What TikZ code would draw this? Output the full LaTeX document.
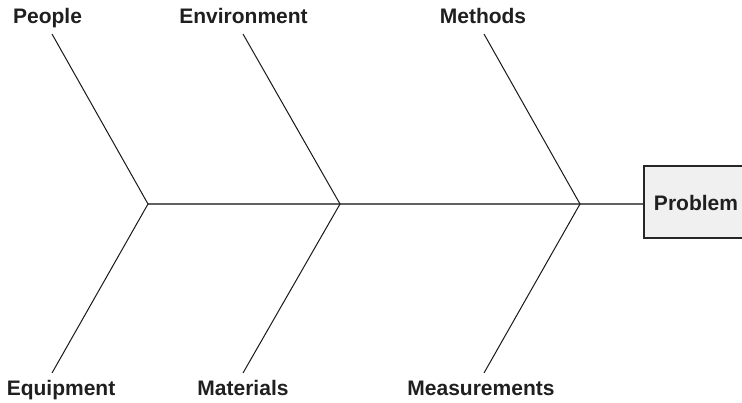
\documentclass[tikz,border=0pt]{standalone}
\usepackage{fontspec}
\setmainfont{Liberation Sans}
\begin{document}
\begin{tikzpicture}[x=1pt,y=-1pt,
  lbl/.style={font=\fontsize{21}{25}\selectfont\bfseries, text=black!88, inner sep=0pt, anchor=base},
  bone/.style={draw=black!90, line width=1pt},
  spine/.style={draw=black!62, line width=1.8pt},
  probbox/.style={draw=black!85, line width=2.4pt, fill=black!6, minimum width=112pt, minimum height=72pt, anchor=west, inner sep=0pt}
]
\useasboundingbox (0,0) rectangle (742,403);
\clip (0,0) rectangle (742,403);
% junctions
\coordinate (j1) at (148,204);
\coordinate (j2) at (340,204);
\coordinate (j3) at (580,204);
% bone ends
\coordinate (t1) at (52,34);
\coordinate (t2) at (243,34);
\coordinate (t3) at (484,34);
\coordinate (b1) at (52,373);
\coordinate (b2) at (243,373);
\coordinate (b3) at (484,373);
% problem box
\node[probbox] (prob) at (643,202) {};
\node[lbl] (probtext) at (696,211) {Problem};
% labels
\node[lbl] (people) at (47.5,23.5) {People};
\node[lbl] (env) at (243.5,23.5) {Environment};
\node[lbl] (meth) at (483,23.5) {Methods};
\node[lbl] (equip) at (61,395.5) {Equipment};
\node[lbl] (mat) at (243,395.5) {Materials};
\node[lbl] (meas) at (481,395.5) {Measurements};
% spine
\draw[spine] (j1) -- (prob.west |- j1);
% bones
\draw[bone] (t1) -- (j1) -- (b1);
\draw[bone] (t2) -- (j2) -- (b2);
\draw[bone] (t3) -- (j3) -- (b3);
\end{tikzpicture}
\end{document}
